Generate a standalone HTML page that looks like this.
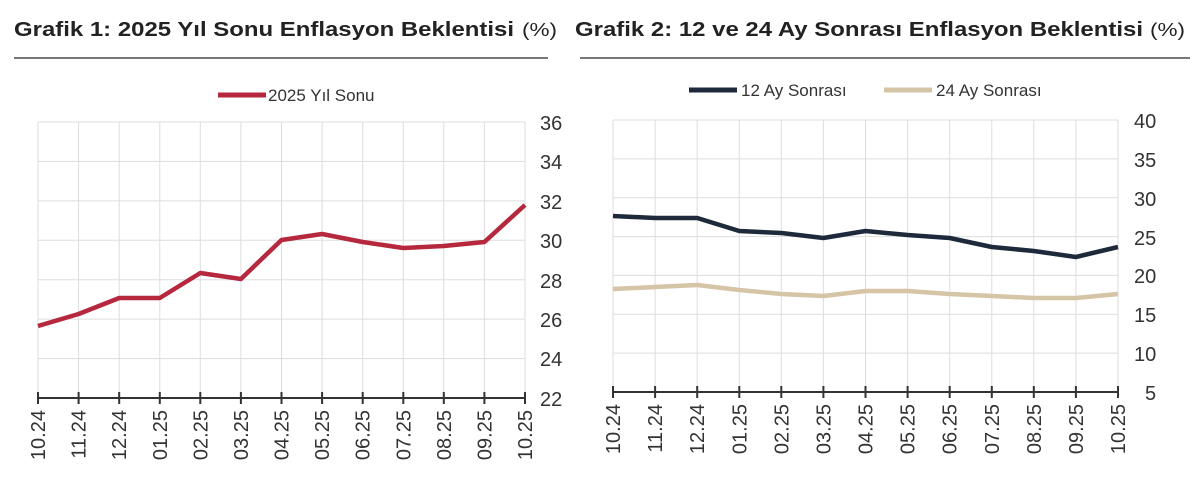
<!DOCTYPE html>
<html><head><meta charset="utf-8"><style>
body{margin:0;background:#fff;}
svg{display:block;font-family:"Liberation Sans",sans-serif;}
</style></head><body>
<svg width="1200" height="484" viewBox="0 0 1200 484" xmlns="http://www.w3.org/2000/svg">
<rect width="1200" height="484" fill="#fff"/>
<text x="14" y="36" font-size="20" font-weight="bold" fill="#222" textLength="500" lengthAdjust="spacingAndGlyphs">Grafik 1: 2025 Yıl Sonu Enflasyon Beklentisi</text>
<text x="522" y="36" font-size="18" fill="#222" textLength="35" lengthAdjust="spacingAndGlyphs">(%)</text>
<text x="575" y="36" font-size="20" font-weight="bold" fill="#222" textLength="568" lengthAdjust="spacingAndGlyphs">Grafik 2: 12 ve 24 Ay Sonrası Enflasyon Beklentisi</text>
<text x="1150" y="36" font-size="18" fill="#222" textLength="35" lengthAdjust="spacingAndGlyphs">(%)</text>
<line x1="14" y1="58" x2="548" y2="58" stroke="#777" stroke-width="2"/>
<line x1="580" y1="58" x2="1190" y2="58" stroke="#777" stroke-width="2"/>

<!-- chart 1 -->
<line x1="218" y1="95" x2="266" y2="95" stroke="#b5283e" stroke-width="5"/>
<text x="268" y="101" font-size="17" fill="#333">2025 Yıl Sonu</text>
<g stroke="#ddd" stroke-width="1">
<line x1="38" y1="122" x2="525" y2="122"/><line x1="38" y1="161.4" x2="525" y2="161.4"/><line x1="38" y1="200.9" x2="525" y2="200.9"/><line x1="38" y1="240.3" x2="525" y2="240.3"/><line x1="38" y1="279.7" x2="525" y2="279.7"/><line x1="38" y1="319.1" x2="525" y2="319.1"/><line x1="38" y1="358.6" x2="525" y2="358.6"/>
<line x1="38" y1="122" x2="38" y2="398"/><line x1="78.6" y1="122" x2="78.6" y2="398"/><line x1="119.2" y1="122" x2="119.2" y2="398"/><line x1="159.8" y1="122" x2="159.8" y2="398"/><line x1="200.3" y1="122" x2="200.3" y2="398"/><line x1="240.9" y1="122" x2="240.9" y2="398"/><line x1="281.5" y1="122" x2="281.5" y2="398"/><line x1="322.1" y1="122" x2="322.1" y2="398"/><line x1="362.7" y1="122" x2="362.7" y2="398"/><line x1="403.3" y1="122" x2="403.3" y2="398"/><line x1="443.8" y1="122" x2="443.8" y2="398"/><line x1="484.4" y1="122" x2="484.4" y2="398"/><line x1="525" y1="122" x2="525" y2="398"/>
</g>
<g stroke="#333" stroke-width="2"><line x1="38" y1="398" x2="525" y2="398"/>
<path d="M38 392v12M78.6 392v12M119.2 392v12M159.8 392v12M200.3 392v12M240.9 392v12M281.5 392v12M322.1 392v12M362.7 392v12M403.3 392v12M443.8 392v12M484.4 392v12M525 392v12"/></g>
<polyline fill="none" stroke="#b5283e" stroke-width="4.5" stroke-linejoin="round" points="38,326 78.6,314 119.2,298 159.8,298 200.3,273 240.9,279 281.5,240 322.1,234 362.7,242 403.3,248 443.8,246 484.4,242 525,205"/>
<g font-size="20" fill="#333">
<text x="540" y="130">36</text><text x="540" y="169">34</text><text x="540" y="209">32</text><text x="540" y="248">30</text><text x="540" y="288">28</text><text x="540" y="327">26</text><text x="540" y="366">24</text><text x="540" y="406">22</text>
</g>
<g font-size="20" fill="#333" text-anchor="end">
<text transform="translate(45,410) rotate(-90)">10.24</text><text transform="translate(85.6,410) rotate(-90)">11.24</text><text transform="translate(126.2,410) rotate(-90)">12.24</text><text transform="translate(166.8,410) rotate(-90)">01.25</text><text transform="translate(207.3,410) rotate(-90)">02.25</text><text transform="translate(247.9,410) rotate(-90)">03.25</text><text transform="translate(288.5,410) rotate(-90)">04.25</text><text transform="translate(329.1,410) rotate(-90)">05.25</text><text transform="translate(369.7,410) rotate(-90)">06.25</text><text transform="translate(410.3,410) rotate(-90)">07.25</text><text transform="translate(450.8,410) rotate(-90)">08.25</text><text transform="translate(491.4,410) rotate(-90)">09.25</text><text transform="translate(532,410) rotate(-90)">10.25</text>
</g>

<!-- chart 2 -->
<line x1="689" y1="90" x2="737" y2="90" stroke="#1e2a3c" stroke-width="5"/>
<text x="741" y="96" font-size="17" fill="#333">12 Ay Sonrası</text>
<line x1="884" y1="90" x2="932" y2="90" stroke="#d6c4a6" stroke-width="5"/>
<text x="936" y="96" font-size="17" fill="#333">24 Ay Sonrası</text>
<g stroke="#ddd" stroke-width="1">
<line x1="613" y1="120" x2="1118" y2="120"/><line x1="613" y1="158.9" x2="1118" y2="158.9"/><line x1="613" y1="197.7" x2="1118" y2="197.7"/><line x1="613" y1="236.6" x2="1118" y2="236.6"/><line x1="613" y1="275.4" x2="1118" y2="275.4"/><line x1="613" y1="314.3" x2="1118" y2="314.3"/><line x1="613" y1="353.1" x2="1118" y2="353.1"/>
<line x1="613" y1="120" x2="613" y2="392"/><line x1="655.1" y1="120" x2="655.1" y2="392"/><line x1="697.2" y1="120" x2="697.2" y2="392"/><line x1="739.3" y1="120" x2="739.3" y2="392"/><line x1="781.3" y1="120" x2="781.3" y2="392"/><line x1="823.4" y1="120" x2="823.4" y2="392"/><line x1="865.5" y1="120" x2="865.5" y2="392"/><line x1="907.6" y1="120" x2="907.6" y2="392"/><line x1="949.7" y1="120" x2="949.7" y2="392"/><line x1="991.8" y1="120" x2="991.8" y2="392"/><line x1="1033.8" y1="120" x2="1033.8" y2="392"/><line x1="1075.9" y1="120" x2="1075.9" y2="392"/><line x1="1118" y1="120" x2="1118" y2="392"/>
</g>
<g stroke="#333" stroke-width="2"><line x1="613" y1="392" x2="1118" y2="392"/>
<path d="M613 386v12M655.1 386v12M697.2 386v12M739.3 386v12M781.3 386v12M823.4 386v12M865.5 386v12M907.6 386v12M949.7 386v12M991.8 386v12M1033.8 386v12M1075.9 386v12M1118 386v12"/></g>
<polyline fill="none" stroke="#d6c4a6" stroke-width="4.5" stroke-linejoin="round" points="613,289 655.1,287 697.2,285 739.3,290 781.3,294 823.4,296 865.5,291 907.6,291 949.7,294 991.8,296 1033.8,298 1075.9,298 1118,294"/>
<polyline fill="none" stroke="#1e2a3c" stroke-width="4.5" stroke-linejoin="round" points="613,216 655.1,218 697.2,218 739.3,231 781.3,233 823.4,238 865.5,231 907.6,235 949.7,238 991.8,247 1033.8,251 1075.9,257 1118,247"/>
<g font-size="20" fill="#333">
<text x="1134" y="128">40</text><text x="1134" y="167">35</text><text x="1134" y="206">30</text><text x="1134" y="245">25</text><text x="1134" y="283">20</text><text x="1134" y="322">15</text><text x="1134" y="361">10</text><text x="1145" y="400">5</text>
</g>
<g font-size="20" fill="#333" text-anchor="end">
<text transform="translate(620,404) rotate(-90)">10.24</text><text transform="translate(662.1,404) rotate(-90)">11.24</text><text transform="translate(704.2,404) rotate(-90)">12.24</text><text transform="translate(746.3,404) rotate(-90)">01.25</text><text transform="translate(788.3,404) rotate(-90)">02.25</text><text transform="translate(830.4,404) rotate(-90)">03.25</text><text transform="translate(872.5,404) rotate(-90)">04.25</text><text transform="translate(914.6,404) rotate(-90)">05.25</text><text transform="translate(956.7,404) rotate(-90)">06.25</text><text transform="translate(998.8,404) rotate(-90)">07.25</text><text transform="translate(1040.8,404) rotate(-90)">08.25</text><text transform="translate(1082.9,404) rotate(-90)">09.25</text><text transform="translate(1125,404) rotate(-90)">10.25</text>
</g>
</svg>
</body></html>
